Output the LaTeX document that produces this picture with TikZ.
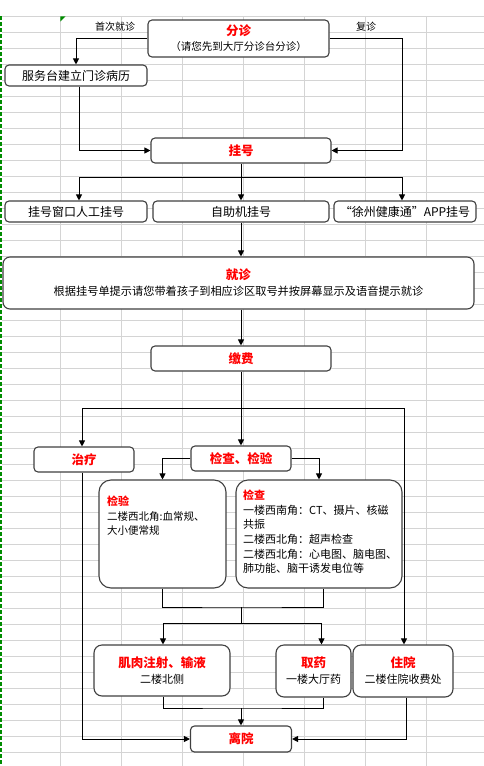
\documentclass[tikz,border=0pt]{standalone}
\usepackage{fontspec}
\setmainfont{Noto Sans CJK SC}
\usetikzlibrary{positioning, arrows.meta}
\definecolor{gridgray}{RGB}{212,212,212}
\definecolor{sheetgreen}{RGB}{0,140,0}
\definecolor{titlered}{RGB}{255,0,0}
\definecolor{boxline}{RGB}{64,64,64}
\newcommand{\boxtitle}[1]{{\color{titlered}\bfseries\fontsize{12.5}{15}\selectfont #1}}
\newcommand{\boxsub}[2]{{\fontsize{#1}{#1}\selectfont #2}}

\begin{document}
\begin{tikzpicture}[
  x=1pt, y=-1pt,
  box/.style = {rectangle, draw=boxline, line width=1.1pt, rounded corners=4pt, fill=white, inner sep=0pt, font=\fontsize{12}{15}\selectfont, align=center},
  bigbox/.style = {box, rounded corners=12pt},
  midbox/.style = {box, rounded corners=8pt},
  note/.style = {inner sep=0pt, font=\fontsize{10.5}{14.6}\selectfont, align=left, anchor=north west},
  sidetext/.style = {inner sep=0pt, font=\fontsize{10}{12}\selectfont},
  gridline/.style = {draw=gridgray, line width=0.8pt},
  line/.style = {line width=0.9pt, black},
  arrow/.style = {line, -{Triangle[length=6pt, width=6pt]}}
  ]

\useasboundingbox (0,0) rectangle (484,766);

% sheet grid
\foreach \x in {60.3,121.4,182.5,243.5,304.6,365.7,426.8}
  \draw[gridline] (\x,16.3) -- (\x,766);
\foreach \i in {0,...,46}
  \draw[gridline] (2,16.3+16*\i) -- (484,16.3+16*\i);
\draw[sheetgreen, line width=1.2pt, dash pattern=on 4pt off 2pt] (1,16) -- (1,766);
\fill[sheetgreen] (60.3,16.3) -- (65.5,16.3) -- (60.3,21.5) -- cycle;

% boxes
\node[box, minimum width=181pt, minimum height=37pt] (fenzhen) at (238.5,38.5)
  {\boxtitle{分诊}\\\boxsub{10.5}{（请您先到大厅分诊台分诊）}};
\node[box, minimum width=142pt, minimum height=21pt] (fuwutai) at (76,75.5) {服务台建立门诊病历};
\node[box, minimum width=180pt, minimum height=25pt] (guahao) at (241,150.5) {\boxtitle{挂号}};
\node[box, minimum width=142pt, minimum height=21pt] (chuangkou) at (76,211.5) {挂号窗口人工挂号};
\node[box, minimum width=176pt, minimum height=21pt] (zizhu) at (241,211.5) {自助机挂号};
\node[box, minimum width=142pt, minimum height=21pt] (app) at (405,211.5) {“徐州健康通”APP挂号};
\node[box, rounded corners=7pt, minimum width=471pt, minimum height=52pt] (jiuzhen) at (238.5,283)
  {\boxtitle{就诊}\\[1pt]\boxsub{11.2}{根据挂号单提示请您带着孩子到相应诊区取号并按屏幕显示及语音提示就诊}};
\node[box, minimum width=180pt, minimum height=25pt] (jiaofei) at (241,358.5) {\boxtitle{缴费}};
\node[box, minimum width=100pt, minimum height=25pt] (zhiliao) at (84,459.5) {\boxtitle{治疗}};
\node[box, minimum width=100pt, minimum height=25pt] (jiancha) at (241,458.5) {\boxtitle{检查、检验}};
\node[bigbox, minimum width=127pt, minimum height=108pt] (jianyanbox) at (162.5,534) {};
\node[bigbox, minimum width=166pt, minimum height=108pt] (jianchabox) at (319,534) {};
\node[note] (jianyantext) at (107,496)
  {\boxtitle{\fontsize{11}{14}\selectfont 检验}\\二楼西北角:血常规、\\大小便常规};
\node[note, font=\fontsize{11}{14.6}\selectfont] (jianchatext) at (243,490)
  {\boxtitle{\fontsize{11}{14}\selectfont 检查}\\一楼西南角：CT、摄片、核磁\\共振\\二楼西北角：超声检查\\二楼西北角：心电图、脑电图、\\肺功能、脑干诱发电位等};
\node[midbox, minimum width=136pt, minimum height=51pt] (zhushe) at (162,670.5)
  {\boxtitle{肌肉注射、输液}\\[1pt]\boxsub{11}{二楼北侧}};
\node[midbox, minimum width=75pt, minimum height=52pt] (quyao) at (313.5,671)
  {\boxtitle{取药}\\[1pt]\boxsub{11}{一楼大厅药}};
\node[midbox, minimum width=100pt, minimum height=52pt] (zhuyuan) at (403,671)
  {\boxtitle{住院}\\[1pt]\boxsub{11}{二楼住院收费处}};
\node[box, minimum width=101pt, minimum height=26pt] (liyuan) at (241,739) {\boxtitle{离院}};

\node[sidetext] (shouci) at (115,27) {首次就诊};
\node[sidetext] (fuzhen) at (366,27) {复诊};

% connectors
\draw[arrow] (fenzhen.west) -| (fuwutai.north);
\draw[arrow] (fenzhen.east) -| ([xshift=71pt]guahao.east) -- (guahao.east);
\draw[arrow] ([xshift=3pt]fuwutai.south) |- (guahao.west);

\coordinate (fork1) at (241,177);
\draw[line] (guahao.south) -- (fork1);
\draw[arrow] (fork1) -| ([xshift=3pt]chuangkou.north);
\draw[arrow] (fork1) -| ([xshift=-3pt]app.north);
\draw[arrow] (fork1) -- (zizhu.north);
\draw[arrow] (zizhu.south) -- (zizhu.south |- jiuzhen.north);
\draw[arrow] (jiaofei.north |- jiuzhen.south) -- (jiaofei.north);

\coordinate (fork2) at (241,408);
\draw[line] (jiaofei.south) -- (fork2);
\draw[arrow] (fork2) -- (jiancha.north);
\draw[arrow] (fork2) -| ([xshift=-2pt]zhiliao.north);
\draw[arrow] (fork2) -| ([xshift=1pt]zhuyuan.north);
\draw[arrow] (jiancha.west) -| (jianyanbox.north);
\draw[arrow] (jiancha.east) -| (jianchabox.north);

\coordinate (merge1) at (241,607);
\coordinate (fork3) at (241,623);
\draw[line] (jianyanbox.south) |- (merge1) -| ([xshift=4pt]jianchabox.south);
\draw[line] (merge1) -- (fork3);
\draw[arrow] (fork3) -| ([xshift=1pt]zhushe.north);
\draw[arrow] (fork3) -| ([xshift=8pt]quyao.north);

\coordinate (merge2) at (241,708);
\draw[line] ([xshift=1pt]zhushe.south) |- (merge2) -| ([xshift=10pt]quyao.south);
\draw[arrow] (merge2) -- (liyuan.north);
\draw[arrow] ([xshift=-2pt]zhiliao.south) |- (liyuan.west);
\draw[arrow] ([xshift=3pt]zhuyuan.south) |- (liyuan.east);

\end{tikzpicture}
\end{document}
